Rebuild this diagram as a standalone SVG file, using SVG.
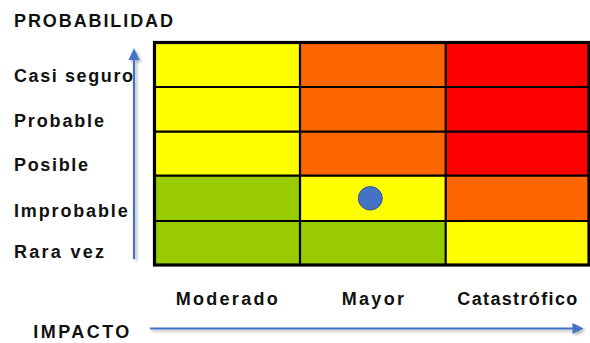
<svg xmlns="http://www.w3.org/2000/svg" width="590" height="343" viewBox="0 0 590 343">
<defs>
<style>
.t{font-family:"Liberation Sans",Arial,sans-serif;font-weight:bold;font-size:18px;fill:#111}
.y{fill:#FFFF00}.o{fill:#FF6600}.r{fill:#FF0000}.g{fill:#99CC00}
.in{stroke:#000;stroke-width:2.2;fill:none}
.ax{stroke:#4472C4;stroke-width:2.2;fill:none}
.ah{fill:#4472C4}
</style>
<filter id="sh" x="-20%" y="-20%" width="140%" height="140%">
<feDropShadow dx="2" dy="2" stdDeviation="1.5" flood-color="#000" flood-opacity="0.3"/>
</filter>
</defs>
<rect width="590" height="343" fill="#fff"/>
<g id="title-prob"><text class="t" x="14" y="26.5" textLength="159" lengthAdjust="spacing">PROBABILIDAD</text></g>
<g id="row-labels">
<text class="t" x="14" y="82" textLength="119" lengthAdjust="spacing">Casi seguro</text>
<text class="t" x="14" y="127" textLength="90" lengthAdjust="spacing">Probable</text>
<text class="t" x="14" y="171" textLength="74" lengthAdjust="spacing">Posible</text>
<text class="t" x="14" y="216.5" textLength="113.7" lengthAdjust="spacing">Improbable</text>
<text class="t" x="14" y="257.5" textLength="90" lengthAdjust="spacing">Rara vez</text>
</g>
<g id="matrix">
<g id="c11"><rect class="y" x="154.5" y="42.5" width="145.5" height="44.5"/></g>
<g id="c12"><rect class="o" x="300" y="42.5" width="145.7" height="44.5"/></g>
<g id="c13"><rect class="r" x="445.7" y="42.5" width="143.3" height="44.5"/></g>
<g id="c21"><rect class="y" x="154.5" y="87" width="145.5" height="44.7"/></g>
<g id="c22"><rect class="o" x="300" y="87" width="145.7" height="44.7"/></g>
<g id="c23"><rect class="r" x="445.7" y="87" width="143.3" height="44.7"/></g>
<g id="c31"><rect class="y" x="154.5" y="131.7" width="145.5" height="44"/></g>
<g id="c32"><rect class="o" x="300" y="131.7" width="145.7" height="44"/></g>
<g id="c33"><rect class="r" x="445.7" y="131.7" width="143.3" height="44"/></g>
<g id="c41"><rect class="g" x="154.5" y="175.7" width="145.5" height="45.3"/></g>
<g id="c42"><rect class="y" x="300" y="175.7" width="145.7" height="45.3"/></g>
<g id="c43"><rect class="o" x="445.7" y="175.7" width="143.3" height="45.3"/></g>
<g id="c51"><rect class="g" x="154.5" y="221" width="145.5" height="44"/></g>
<g id="c52"><rect class="g" x="300" y="221" width="145.7" height="44"/></g>
<g id="c53"><rect class="y" x="445.7" y="221" width="143.3" height="44"/></g>
<path class="in" d="M300 42.5V265M445.7 42.5V265M154.5 87H589M154.5 131.7H589M154.5 175.7H589M154.5 221H589"/>
<rect x="154.5" y="42.5" width="434.5" height="222.5" fill="none" stroke="#000" stroke-width="3.2"/>
</g>
<g id="marker-point"><ellipse cx="370.3" cy="198.3" rx="12" ry="11.7" fill="#4472C4" stroke="#2F528F" stroke-width="1"/></g>
<g id="col-labels">
<text class="t" x="175.7" y="305" textLength="102" lengthAdjust="spacing">Moderado</text>
<text class="t" x="341.7" y="305" textLength="62.3" lengthAdjust="spacing">Mayor</text>
<text class="t" x="457.3" y="305" textLength="120" lengthAdjust="spacing">Catastrófico</text>
</g>
<g id="title-impact"><text class="t" x="33.3" y="338" textLength="96" lengthAdjust="spacing">IMPACTO</text></g>
<g id="connectors" filter="url(#sh)">
<line class="ax" x1="134" y1="259" x2="134" y2="58"/>
<polygon class="ah" points="134,48 139.5,60 128.5,60"/>
<line class="ax" x1="150" y1="328.5" x2="574" y2="328.5"/>
<polygon class="ah" points="583.5,328.5 572.5,323 572.5,334"/>
</g>
</svg>
